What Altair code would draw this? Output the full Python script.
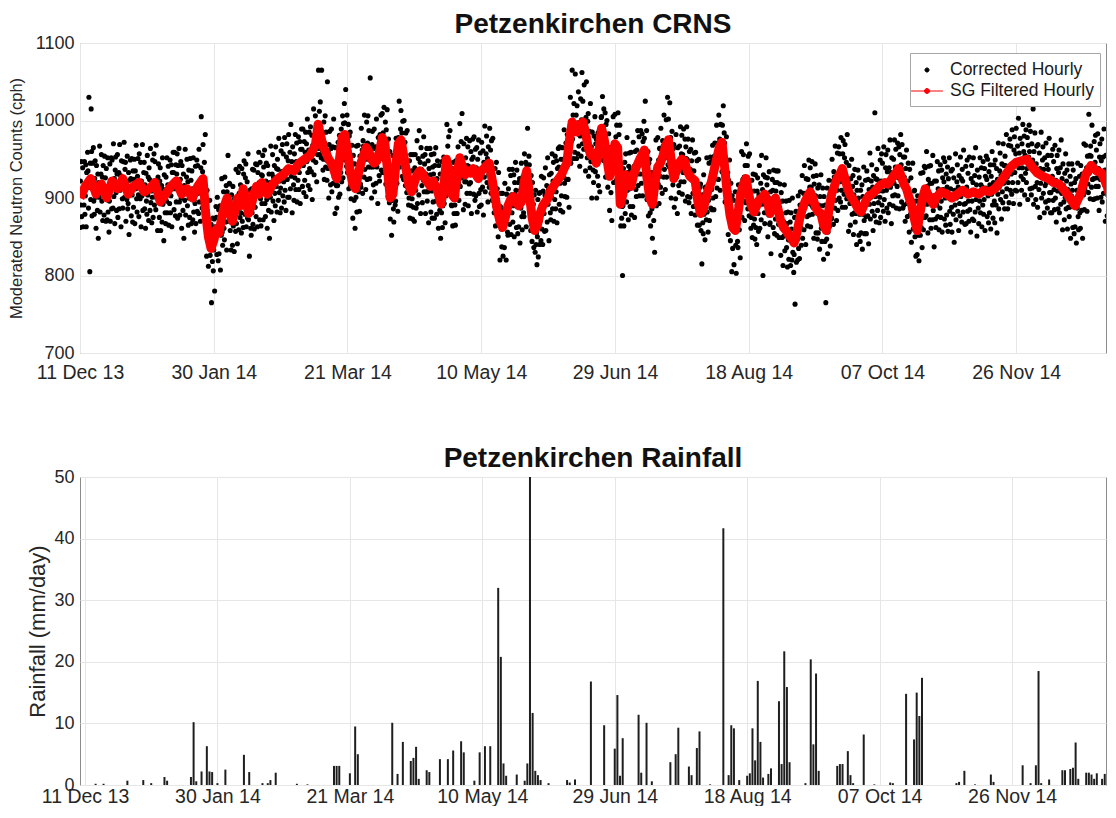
import altair as alt
import pandas as pd
import numpy as np

START = pd.Timestamp("2013-12-11")
FONT = "Liberation Sans"

# Corrected hourly neutron counts, sampled every 4 hours (6 values per day), 2 days per line
hourly_cph = [
    862, 922, 891, 947, 876, 912, 939, 863, 914, 891, 947, 879,
    903, 943, 863, 933, 918, 959, 935, 887, 1030, 914, 805, 945,
    898, 1015, 960, 877, 945, 922, 965, 896, 879, 925, 948, 901,
    861, 942, 905, 884, 931, 848, 920, 901, 967, 882, 910, 931,
    956, 896, 927, 871, 942, 906, 878, 954, 903, 926, 870, 938,
    912, 872, 952, 882, 897, 856, 896, 944, 870, 917, 952, 886,
    949, 913, 887, 970, 902, 925, 867, 936, 953, 907, 884, 931,
    956, 875, 912, 933, 886, 969, 910, 929, 863, 948, 920, 899,
    887, 947, 916, 972, 901, 937, 946, 870, 921, 898, 954, 886,
    893, 933, 853, 923, 908, 949, 925, 877, 951, 904, 869, 935,
    888, 924, 950, 867, 935, 912, 968, 899, 882, 928, 951, 904,
    876, 957, 920, 899, 946, 863, 922, 903, 969, 884, 912, 933,
    946, 886, 917, 861, 932, 896, 879, 955, 904, 927, 871, 939,
    924, 884, 964, 894, 909, 868, 901, 949, 875, 922, 957, 891,
    947, 911, 885, 968, 900, 923, 858, 927, 944, 898, 875, 922,
    939, 858, 895, 916, 869, 952, 892, 911, 845, 930, 902, 881,
    867, 927, 896, 952, 881, 917, 941, 865, 916, 893, 949, 881,
    903, 943, 863, 933, 918, 959, 933, 885, 959, 912, 877, 943,
    895, 931, 957, 874, 942, 919, 964, 895, 878, 924, 947, 900,
    861, 942, 905, 884, 931, 848, 916, 897, 963, 878, 906, 927,
    950, 890, 921, 865, 936, 900, 875, 951, 900, 923, 867, 935,
    912, 872, 952, 882, 897, 856, 893, 941, 867, 914, 949, 883,
    942, 906, 880, 963, 895, 918, 870, 939, 1005, 910, 887, 934,
    969, 888, 925, 946, 899, 982, 872, 891, 825, 910, 882, 861,
    812, 872, 841, 897, 826, 862, 866, 765, 841, 818, 874, 806,
    833, 873, 780, 863, 848, 889, 875, 827, 901, 854, 819, 885,
    828, 864, 890, 807, 875, 852, 925, 856, 839, 885, 908, 861,
    846, 927, 890, 869, 916, 833, 908, 889, 955, 870, 898, 919,
    918, 858, 889, 833, 904, 868, 839, 915, 864, 887, 831, 899,
    897, 857, 937, 867, 882, 841, 885, 933, 859, 906, 941, 875,
    917, 881, 855, 938, 870, 893, 862, 931, 948, 902, 879, 926,
    944, 863, 900, 921, 874, 957, 872, 891, 825, 910, 882, 861,
    852, 912, 881, 937, 866, 902, 936, 860, 911, 888, 944, 876,
    903, 943, 863, 933, 918, 959, 920, 872, 946, 899, 864, 930,
    893, 929, 955, 872, 940, 917, 962, 893, 876, 922, 945, 898,
    861, 942, 905, 884, 931, 848, 920, 901, 967, 882, 910, 931,
    956, 896, 927, 871, 942, 906, 890, 966, 915, 938, 882, 950,
    937, 897, 977, 907, 922, 881, 913, 961, 887, 934, 969, 903,
    957, 921, 895, 978, 910, 933, 884, 953, 970, 924, 901, 948,
    982, 901, 938, 959, 912, 995, 928, 947, 881, 966, 938, 917,
    897, 957, 926, 982, 911, 947, 971, 895, 946, 923, 979, 911,
    933, 973, 893, 963, 948, 989, 963, 915, 989, 942, 907, 973,
    923, 959, 985, 902, 970, 947, 1002, 933, 916, 962, 985, 938,
    911, 992, 955, 934, 981, 898, 968, 949, 1015, 930, 958, 979,
    1006, 946, 977, 921, 992, 956, 964, 1065, 989, 1012, 956, 1024,
    992, 952, 1065, 962, 977, 936, 950, 998, 924, 971, 1006, 940,
    985, 949, 923, 1050, 938, 961, 900, 969, 986, 940, 917, 964,
    989, 908, 945, 966, 919, 1002, 927, 946, 880, 965, 937, 916,
    887, 947, 916, 972, 901, 937, 981, 905, 956, 933, 989, 921,
    966, 1006, 926, 996, 981, 1022, 997, 949, 1040, 976, 941, 1007,
    933, 969, 995, 912, 980, 957, 985, 916, 899, 945, 968, 921,
    874, 955, 918, 897, 944, 861, 920, 901, 967, 882, 910, 931,
    968, 908, 939, 883, 954, 918, 914, 990, 939, 962, 906, 974,
    967, 927, 1007, 937, 952, 911, 950, 998, 924, 971, 1006, 940,
    987, 951, 925, 1055, 940, 963, 900, 969, 986, 940, 917, 964,
    989, 908, 945, 966, 919, 1002, 940, 959, 893, 978, 950, 929,
    922, 982, 951, 1007, 936, 972, 1009, 933, 984, 961, 1017, 949,
    958, 998, 918, 988, 973, 1014, 950, 902, 976, 929, 894, 960,
    873, 909, 935, 852, 920, 897, 955, 886, 869, 915, 938, 891,
    896, 977, 940, 919, 966, 883, 978, 959, 1025, 940, 968, 989,
    1013, 953, 984, 928, 999, 963, 924, 1000, 949, 972, 916, 984,
    947, 907, 987, 917, 932, 891, 900, 948, 874, 921, 956, 890,
    935, 899, 873, 956, 888, 911, 870, 939, 956, 910, 887, 934,
    974, 893, 930, 951, 904, 987, 927, 946, 880, 965, 937, 916,
    894, 954, 923, 979, 908, 944, 956, 880, 931, 908, 964, 896,
    908, 948, 868, 938, 923, 964, 930, 882, 956, 909, 874, 940,
    895, 931, 957, 874, 942, 919, 965, 896, 879, 925, 948, 901,
    861, 942, 905, 884, 931, 848, 900, 881, 947, 862, 890, 911,
    953, 893, 924, 868, 939, 903, 919, 995, 944, 967, 911, 979,
    947, 907, 987, 917, 932, 891, 890, 938, 864, 911, 946, 880,
    927, 891, 865, 948, 880, 903, 880, 949, 966, 920, 897, 944,
    996, 915, 952, 973, 926, 1009, 932, 951, 885, 970, 942, 921,
    892, 952, 921, 977, 906, 942, 966, 890, 941, 918, 974, 906,
    920, 960, 880, 950, 935, 976, 953, 905, 979, 932, 897, 963,
    903, 939, 965, 882, 950, 927, 975, 906, 889, 935, 958, 911,
    891, 972, 935, 914, 961, 878, 946, 927, 993, 908, 936, 957,
    980, 920, 951, 895, 966, 930, 914, 990, 939, 962, 906, 974,
    937, 897, 977, 907, 922, 881, 890, 938, 864, 911, 946, 880,
    912, 876, 850, 933, 865, 888, 820, 889, 906, 860, 837, 884,
    906, 825, 862, 883, 836, 919, 867, 886, 820, 905, 877, 856,
    852, 912, 881, 937, 866, 902, 929, 853, 904, 881, 937, 869,
    890, 930, 850, 920, 905, 946, 910, 862, 936, 889, 854, 920,
    863, 899, 925, 842, 910, 887, 945, 876, 859, 905, 928, 881,
    876, 957, 920, 899, 946, 863, 943, 924, 990, 905, 933, 954,
    943, 883, 914, 858, 929, 893, 844, 920, 869, 892, 836, 904,
    870, 830, 910, 840, 855, 814, 850, 898, 824, 871, 906, 840,
    907, 871, 845, 928, 860, 883, 840, 909, 926, 880, 857, 904,
    939, 858, 895, 916, 869, 952, 892, 911, 845, 930, 902, 881,
    872, 932, 901, 957, 886, 922, 946, 870, 921, 898, 954, 886,
    908, 948, 868, 938, 923, 964, 940, 892, 966, 919, 884, 950,
    903, 939, 965, 882, 950, 927, 988, 919, 902, 948, 971, 924,
    901, 982, 945, 924, 971, 888, 983, 964, 1030, 945, 973, 994,
    1065, 976, 1007, 951, 1022, 986, 959, 1060, 984, 1007, 951, 1019,
    997, 957, 1037, 967, 982, 941, 980, 1028, 954, 1001, 1062, 970,
    1025, 989, 963, 1046, 978, 1001, 935, 1004, 1050, 975, 952, 999,
    1009, 928, 965, 986, 939, 1022, 947, 966, 900, 985, 957, 936,
    920, 980, 949, 1005, 934, 970, 976, 900, 951, 928, 984, 916,
    948, 988, 908, 978, 963, 1004, 1005, 957, 1031, 984, 949, 1015,
    948, 984, 1010, 927, 995, 972, 1000, 931, 914, 960, 983, 936,
    884, 965, 928, 907, 954, 871, 958, 939, 1005, 920, 948, 969,
    1008, 948, 979, 923, 994, 958, 934, 1010, 959, 982, 926, 994,
    904, 864, 944, 874, 889, 800, 890, 938, 864, 911, 946, 880,
    957, 921, 895, 978, 910, 933, 872, 941, 958, 912, 889, 936,
    959, 878, 915, 936, 889, 972, 922, 941, 875, 960, 932, 911,
    902, 962, 931, 987, 916, 952, 979, 903, 954, 931, 987, 919,
    943, 983, 903, 973, 958, 999, 977, 929, 1025, 956, 921, 987,
    898, 934, 960, 877, 945, 922, 950, 881, 864, 910, 933, 886,
    848, 929, 892, 871, 918, 830, 928, 909, 975, 890, 918, 939,
    978, 918, 949, 893, 964, 928, 914, 990, 939, 962, 906, 974,
    967, 927, 1007, 937, 952, 911, 953, 1001, 927, 974, 1030, 943,
    1002, 966, 940, 1023, 955, 978, 900, 969, 986, 940, 917, 964,
    969, 888, 925, 946, 899, 982, 927, 946, 880, 965, 937, 916,
    907, 967, 936, 992, 921, 957, 981, 905, 956, 933, 989, 921,
    936, 976, 896, 966, 951, 992, 950, 902, 976, 929, 894, 960,
    901, 937, 963, 880, 948, 925, 975, 906, 889, 935, 958, 911,
    878, 959, 922, 901, 948, 865, 903, 884, 950, 865, 893, 914,
    918, 858, 889, 815, 904, 868, 854, 930, 879, 902, 846, 914,
    912, 872, 952, 882, 897, 856, 897, 945, 871, 918, 953, 887,
    947, 911, 885, 968, 900, 923, 885, 954, 971, 925, 902, 949,
    994, 913, 950, 971, 924, 1007, 957, 976, 910, 995, 967, 946,
    934, 994, 963, 1019, 948, 984, 971, 895, 946, 923, 979, 911,
    893, 933, 853, 923, 908, 949, 893, 845, 919, 872, 805, 903,
    835, 871, 897, 814, 882, 859, 908, 839, 803, 868, 891, 844,
    836, 917, 880, 859, 906, 823, 913, 894, 960, 875, 903, 924,
    956, 896, 927, 871, 942, 906, 894, 970, 919, 942, 886, 954,
    917, 877, 957, 887, 902, 861, 875, 923, 849, 896, 931, 865,
    909, 873, 847, 930, 862, 885, 840, 909, 926, 880, 857, 904,
    942, 861, 898, 919, 872, 955, 892, 911, 800, 930, 902, 881,
    867, 927, 896, 952, 881, 917, 926, 850, 901, 878, 934, 866,
    868, 908, 828, 898, 883, 924, 910, 862, 936, 889, 854, 920,
    873, 909, 935, 852, 920, 897, 935, 866, 849, 895, 918, 871,
    826, 907, 870, 849, 896, 813, 870, 851, 917, 832, 860, 881,
    896, 836, 867, 811, 882, 846, 821, 897, 846, 869, 813, 881,
    860, 820, 900, 830, 845, 804, 827, 875, 763, 848, 883, 817,
    882, 846, 820, 903, 835, 858, 822, 891, 908, 862, 839, 886,
    929, 848, 885, 906, 859, 942, 887, 906, 840, 925, 897, 876,
    864, 924, 893, 949, 878, 914, 939, 863, 914, 891, 947, 879,
    888, 928, 848, 918, 903, 944, 903, 855, 929, 882, 847, 913,
    855, 891, 917, 834, 902, 879, 930, 861, 844, 890, 913, 866,
    821, 902, 865, 844, 891, 765, 866, 847, 913, 828, 856, 877,
    923, 863, 894, 838, 909, 873, 874, 950, 899, 922, 866, 934,
    927, 887, 967, 897, 912, 871, 910, 958, 884, 931, 966, 900,
    957, 921, 895, 978, 910, 933, 888, 957, 974, 928, 905, 952,
    969, 888, 925, 946, 899, 982, 904, 923, 857, 942, 914, 893,
    865, 925, 894, 950, 879, 915, 929, 853, 904, 881, 937, 869,
    880, 920, 840, 910, 895, 936, 900, 852, 926, 879, 844, 910,
    855, 891, 917, 834, 902, 879, 940, 871, 854, 900, 923, 876,
    854, 935, 898, 877, 924, 841, 911, 892, 958, 873, 901, 922,
    943, 883, 914, 858, 929, 893, 877, 1010, 902, 925, 869, 937,
    924, 884, 964, 894, 909, 868, 901, 949, 875, 922, 957, 891,
    945, 909, 883, 966, 898, 921, 870, 939, 956, 910, 887, 934,
    962, 881, 918, 939, 892, 975, 914, 933, 867, 952, 924, 903,
    890, 950, 919, 975, 904, 940, 963, 887, 938, 915, 971, 903,
    926, 966, 886, 956, 941, 982, 943, 895, 969, 922, 887, 953,
    891, 927, 953, 870, 938, 915, 962, 893, 876, 922, 945, 898,
    856, 937, 900, 879, 926, 843, 898, 879, 945, 860, 888, 909,
    910, 850, 881, 825, 896, 860, 827, 903, 852, 875, 819, 887,
    892, 852, 932, 862, 877, 836, 885, 933, 859, 906, 941, 875,
    939, 903, 877, 960, 892, 915, 855, 924, 941, 895, 872, 919,
    942, 861, 898, 919, 872, 955, 884, 903, 837, 922, 894, 873,
    862, 922, 891, 947, 876, 912, 935, 859, 910, 887, 943, 875,
    896, 936, 856, 926, 911, 952, 921, 873, 947, 900, 865, 931,
    878, 914, 940, 857, 925, 902, 952, 883, 866, 912, 935, 888,
    856, 937, 900, 879, 926, 843, 910, 891, 957, 872, 900, 921,
    943, 883, 914, 858, 929, 893, 877, 953, 902, 925, 869, 937,
    922, 882, 962, 892, 907, 866, 893, 941, 867, 914, 949, 883,
    932, 896, 870, 953, 885, 908, 856, 925, 942, 896, 873, 920,
    952, 871, 908, 929, 882, 965, 898, 917, 851, 936, 908, 887,
    867, 927, 896, 952, 881, 917, 939, 863, 914, 891, 947, 879,
    898, 938, 858, 928, 913, 954, 924, 876, 950, 903, 868, 934,
    881, 917, 943, 860, 928, 905, 960, 891, 874, 920, 943, 896,
    868, 949, 912, 891, 938, 855, 924, 905, 971, 886, 914, 935,
    958, 898, 929, 873, 944, 908, 894, 970, 919, 942, 886, 954,
    942, 902, 982, 912, 927, 886, 920, 968, 894, 941, 976, 910,
    967, 931, 905, 988, 920, 943, 893, 962, 979, 933, 910, 957,
    990, 909, 946, 967, 920, 1003, 939, 958, 892, 977, 949, 928,
    910, 970, 939, 995, 924, 960, 980, 904, 955, 932, 988, 920,
    938, 978, 898, 968, 953, 994, 960, 912, 986, 939, 904, 970,
    913, 949, 1015, 892, 960, 937, 984, 915, 898, 944, 967, 920,
    888, 969, 932, 911, 958, 875, 938, 919, 985, 900, 928, 949,
    966, 906, 937, 881, 952, 916, 895, 971, 920, 943, 887, 955,
    937, 897, 977, 907, 922, 881, 907, 955, 881, 928, 963, 897,
    947, 911, 885, 968, 900, 923, 869, 938, 955, 909, 886, 933,
    962, 881, 918, 939, 892, 975, 906, 925, 859, 944, 916, 895,
    872, 932, 901, 957, 886, 922, 936, 860, 911, 888, 944, 876,
    888, 928, 848, 918, 903, 944, 910, 862, 936, 889, 854, 920,
    863, 899, 925, 842, 910, 887, 945, 876, 859, 905, 928, 881,
    861, 942, 905, 884, 931, 848, 923, 904, 970, 885, 913, 934,
    968, 908, 939, 883, 954, 918, 907, 1008, 932, 955, 899, 967,
    954, 914, 994, 924, 939, 898, 925, 973, 899, 946, 981, 915,
    962, 926, 900, 983, 915, 938, 884, 953, 970, 924, 901, 948,
    976, 895, 932, 953, 906, 989, 917, 936, 870, 955, 927, 906,
    877, 937, 906, 962, 891, 927, 934, 858, 909, 886, 942, 874,
]

# SG filtered series (days after 11 Dec 2013, cph)
sg_day = [*range(0, 47, 2), *range(47, 71), *range(72, 89, 2), *range(89, 320),
          *range(320, 343, 2), *range(344, 385, 2), 385]
sg_cph = [
    900, 915, 925, 905, 918, 900, 922, 912, 925, 905, 915, 920,
    908, 912, 920, 895, 905, 915, 922, 905, 912, 900, 915, 925,
    880, 850, 835, 845, 860, 855, 875, 890, 900, 880, 870, 885,
    900, 890, 912, 900, 880, 890, 905, 915, 905, 920, 912, 905,
    918, 925, 930, 938, 935, 945, 950, 955, 968,
    995, 980, 965, 958, 950, 945, 935, 925, 950, 978,
    982, 960, 935, 918, 912, 930, 945, 955, 965, 960,
    950, 945, 948, 960, 978, 970, 935, 900, 905, 940,
    970, 975, 955, 935, 915, 908, 920, 930, 935, 932,
    925, 920, 915, 922, 915, 905, 892, 915, 950, 935,
    905, 900, 930, 952, 940, 930, 935, 932, 938, 930,
    925, 935, 938, 942, 945, 925, 905, 885, 870, 862,
    875, 890, 898, 902, 895, 890, 895, 920, 935, 905,
    875, 858, 865, 880, 890, 895, 900, 910, 915, 920,
    925, 930, 938, 945, 975, 998, 990, 985, 995, 998,
    985, 965, 955, 958, 945, 960, 990, 975, 950, 928,
    950, 970, 965, 892, 905, 930, 922, 915, 930, 940,
    948, 955, 962, 925, 900, 892, 920, 940, 945, 955,
    968, 975, 950, 925, 935, 945, 950, 948, 935, 928,
    925, 922, 895, 880, 885, 900, 912, 920, 935, 950,
    965, 972, 940, 905, 878, 862, 858, 880, 905, 918,
    925, 905, 890, 882, 890, 898, 900, 905, 895, 880,
    895, 900, 885, 870, 862, 858, 852, 848, 842, 855,
    872, 885, 895, 902, 908, 900, 888, 882, 880, 865,
    858, 885, 905, 915, 925, 930, 938, 925, 912, 903,
    898, 892, 885, 882, 890, 898, 903, 905, 908, 912,
    916, 918, 920, 918, 922, 928, 932, 938, 928, 918,
    912, 900, 890, 872, 858, 880, 900, 912, 905, 898,
    892,
    900, 908, 905, 900, 905, 910, 905, 908, 905, 910, 908, 912,
    920, 930, 940, 946, 948, 950, 940, 932, 928, 925, 920,
    918, 910, 900, 890, 905, 930, 942, 935, 932, 915,
    903,
]

# Daily rainfall (days after 11 Dec 2013, mm/day)
rain_day = [
    4, 7, 16, 22, 25, 30, 31, 40, 41, 42,
    44, 46, 47, 48, 50, 53, 60, 62, 67, 69,
    70, 72, 80, 84, 94, 95, 96, 100, 102, 103,
    116, 118, 120, 123, 124, 125, 126, 129, 130, 134,
    137, 139, 142, 143, 147, 149, 151, 153, 156, 157,
    158, 159, 163, 166, 167, 168, 169, 170, 171, 172,
    175, 182, 183, 185, 191, 196, 200, 201, 202, 203,
    209, 210, 212, 214, 221, 223, 224, 228, 229, 231,
    232, 236, 241, 243, 244, 245, 247, 250, 251, 252,
    253, 254, 255, 256, 258, 259, 262, 263, 264, 265,
    266, 272, 274, 275, 276, 277, 284, 285, 286, 288,
    289, 290, 294, 298, 304, 305, 310, 313, 314, 315,
    316, 329, 330, 332, 336, 342, 343, 354, 357, 359,
    360, 361, 364, 369, 370, 372, 373, 374, 375, 378,
    379, 380, 381, 382, 384, 385,
]
rain_mm = [
    0.2, 0.2, 0.7, 0.8, 0.3, 1.3, 0.7, 1.3, 10.2, 0.6,
    2.2, 6.3, 2.2, 2.1, 0.3, 2.5, 4.9, 2.1, 0.3, 0.3,
    0.8, 2.0, 0.2, 0.1, 3.1, 3.1, 3.1, 1.9, 9.5, 5.0,
    10.1, 1.8, 7.0, 3.9, 4.4, 6.2, 1.0, 2.4, 2.1, 4.2,
    4.2, 5.6, 7.1, 5.3, 0.7, 5.3, 6.3, 6.3, 32.0, 20.8,
    3.5, 1.5, 1.7, 0.7, 3.5, 50.0, 11.7, 2.3, 1.6, 0.8,
    0.3, 0.8, 0.4, 0.9, 16.8, 9.7, 5.9, 14.6, 1.5, 7.6,
    11.4, 2.0, 10.1, 0.6, 3.7, 5.0, 9.3, 3.0, 1.6, 6.0,
    8.7, 0.1, 41.7, 1.6, 9.7, 9.2, 0.8, 1.5, 1.9, 9.2,
    4.0, 16.9, 7.0, 1.2, 1.8, 2.7, 13.6, 3.4, 21.7, 15.9,
    3.7, 0.3, 20.4, 6.6, 18.1, 2.3, 3.1, 3.4, 3.4, 5.5,
    1.6, 0.3, 8.2, 0.1, 0.4, 0.3, 14.8, 7.4, 15.0, 11.2,
    17.4, 0.3, 0.5, 2.3, 0.1, 1.7, 0.5, 3.2, 0.3, 3.2,
    18.5, 0.3, 0.9, 2.4, 2.4, 2.6, 2.8, 6.9, 1.0, 2.0,
    2.0, 1.7, 1.0, 1.9, 1.0, 1.8,
]

tick_dates = [(2013, 12, 11), (2014, 1, 30), (2014, 3, 21), (2014, 5, 10),
              (2014, 6, 29), (2014, 8, 18), (2014, 10, 7), (2014, 11, 26)]
series_names = ["Corrected Hourly", "SG Filtered Hourly"]
cph_ticks = [700, 800, 900, 1000, 1100]
rain_ticks = [0, 10, 20, 30, 40, 50]

FMT = "%Y-%m-%dT%H:%M:%S"
n = len(hourly_cph)
scatter_df = pd.DataFrame({
    "time": (START + pd.to_timedelta(np.arange(n) * 4, unit="h")).strftime(FMT),
    "cph": hourly_cph,
    "series": series_names[0],
})
m = min(len(sg_day), len(sg_cph))
sg_df = pd.DataFrame({
    "time": (START + pd.to_timedelta(np.array(sg_day[:m], dtype=float), unit="D")).strftime(FMT),
    "cph": sg_cph[:m],
    "series": series_names[1],
})
k = min(len(rain_day), len(rain_mm))
rain_df = pd.DataFrame({
    "time": (START + pd.to_timedelta(np.array(rain_day[:k], dtype=float), unit="D")).strftime(FMT),
    "mm": rain_mm[:k],
})

x_domain = [alt.DateTime(year=2013, month=12, date=11),
            alt.DateTime(year=2014, month=12, date=29, hours=14)]
x_values = [alt.DateTime(year=y, month=mo, date=d) for (y, mo, d) in tick_dates]

W = 1026


def x_enc(pad):
    return alt.X(
        "time:T",
        scale=alt.Scale(domain=x_domain, nice=False),
        axis=alt.Axis(values=x_values, format="%d %b %y", title=None,
                      labelFlush=False, labelOverlap=False, labelPadding=pad,
                      labelFontSize=19.5),
    )


color_scale = alt.Scale(domain=series_names, range=["#000000", "#ff0000"])
dot = "M-0.2,0A0.2,0.2,0,1,1,0.2,0A0.2,0.2,0,1,1,-0.2,0Z"
line_dot = "M-1.55,0L1.55,0M-0.24,0A0.24,0.24,0,1,1,0.24,0A0.24,0.24,0,1,1,-0.24,0Z"
legend = alt.Legend(
    title=None, orient="none", legendX=W - 196, legendY=10, padding=6,
    strokeColor="#a6a6a6", fillColor="white",
    labelFontSize=17.5, labelFont=FONT, labelColor="#1a1a1a",
    symbolSize=420, rowPadding=1, labelOffset=12,
    symbolStrokeWidth=1, symbolOpacity=1,
    symbolType={"expr": f"datum.value === '{series_names[1]}' ? '{line_dot}' : '{dot}'"},
)

y_cph = alt.Y(
    "cph:Q",
    scale=alt.Scale(domain=[700, 1100], nice=False, zero=False),
    axis=alt.Axis(values=cph_ticks, format="d", title="Moderated Neutron Counts (cph)",
                  titleFontSize=16.5, labelFontSize=18, titlePadding=9, labelPadding=6),
)

points = alt.Chart(scatter_df).mark_circle(size=26, opacity=1, clip=True).encode(
    x=x_enc(10), y=y_cph,
    color=alt.Color("series:N", scale=color_scale, legend=legend),
)
sg_line = alt.Chart(sg_df).mark_line(strokeWidth=9, clip=True, strokeJoin="round").encode(
    x=x_enc(10), y=y_cph,
    color=alt.Color("series:N", scale=color_scale, legend=legend),
)

top = alt.layer(points, sg_line).properties(
    width=W, height=310,
    title=alt.TitleParams("Petzenkirchen CRNS", fontSize=28, fontWeight="bold",
                          font=FONT, frame="group", anchor="middle", offset=-4.5, color="#111111"),
)

bars = alt.Chart(rain_df).mark_bar(width=2, color="#1e1e1e", clip=True).encode(
    x=x_enc(2),
    y=alt.Y("mm:Q", scale=alt.Scale(domain=[0, 50], nice=False),
            axis=alt.Axis(values=rain_ticks, format="d", title="Rainfall (mm/day)",
                          titleFontSize=22, labelFontSize=18, titlePadding=4, labelPadding=6)),
).properties(
    width=W, height=308,
    title=alt.TitleParams("Petzenkirchen Rainfall", fontSize=28, fontWeight="bold",
                          font=FONT, frame="group", anchor="middle", offset=-4.5, color="#111111"),
)

chart = alt.vconcat(top, bars, spacing=62).configure(
    font=FONT, padding={"left": 0, "top": 2, "right": 0, "bottom": 0},
).configure_view(
    stroke="#8c8c8c", strokeWidth=1,
).configure_axis(
    grid=True, gridColor="#e6e6e6", gridWidth=1, domain=False, ticks=False,
    labelFont=FONT, titleFont=FONT, labelColor="#262626", titleColor="#262626",
    titleFontWeight="normal",
)

chart.save("out.html", embed_options={"renderer": "svg", "actions": False})
